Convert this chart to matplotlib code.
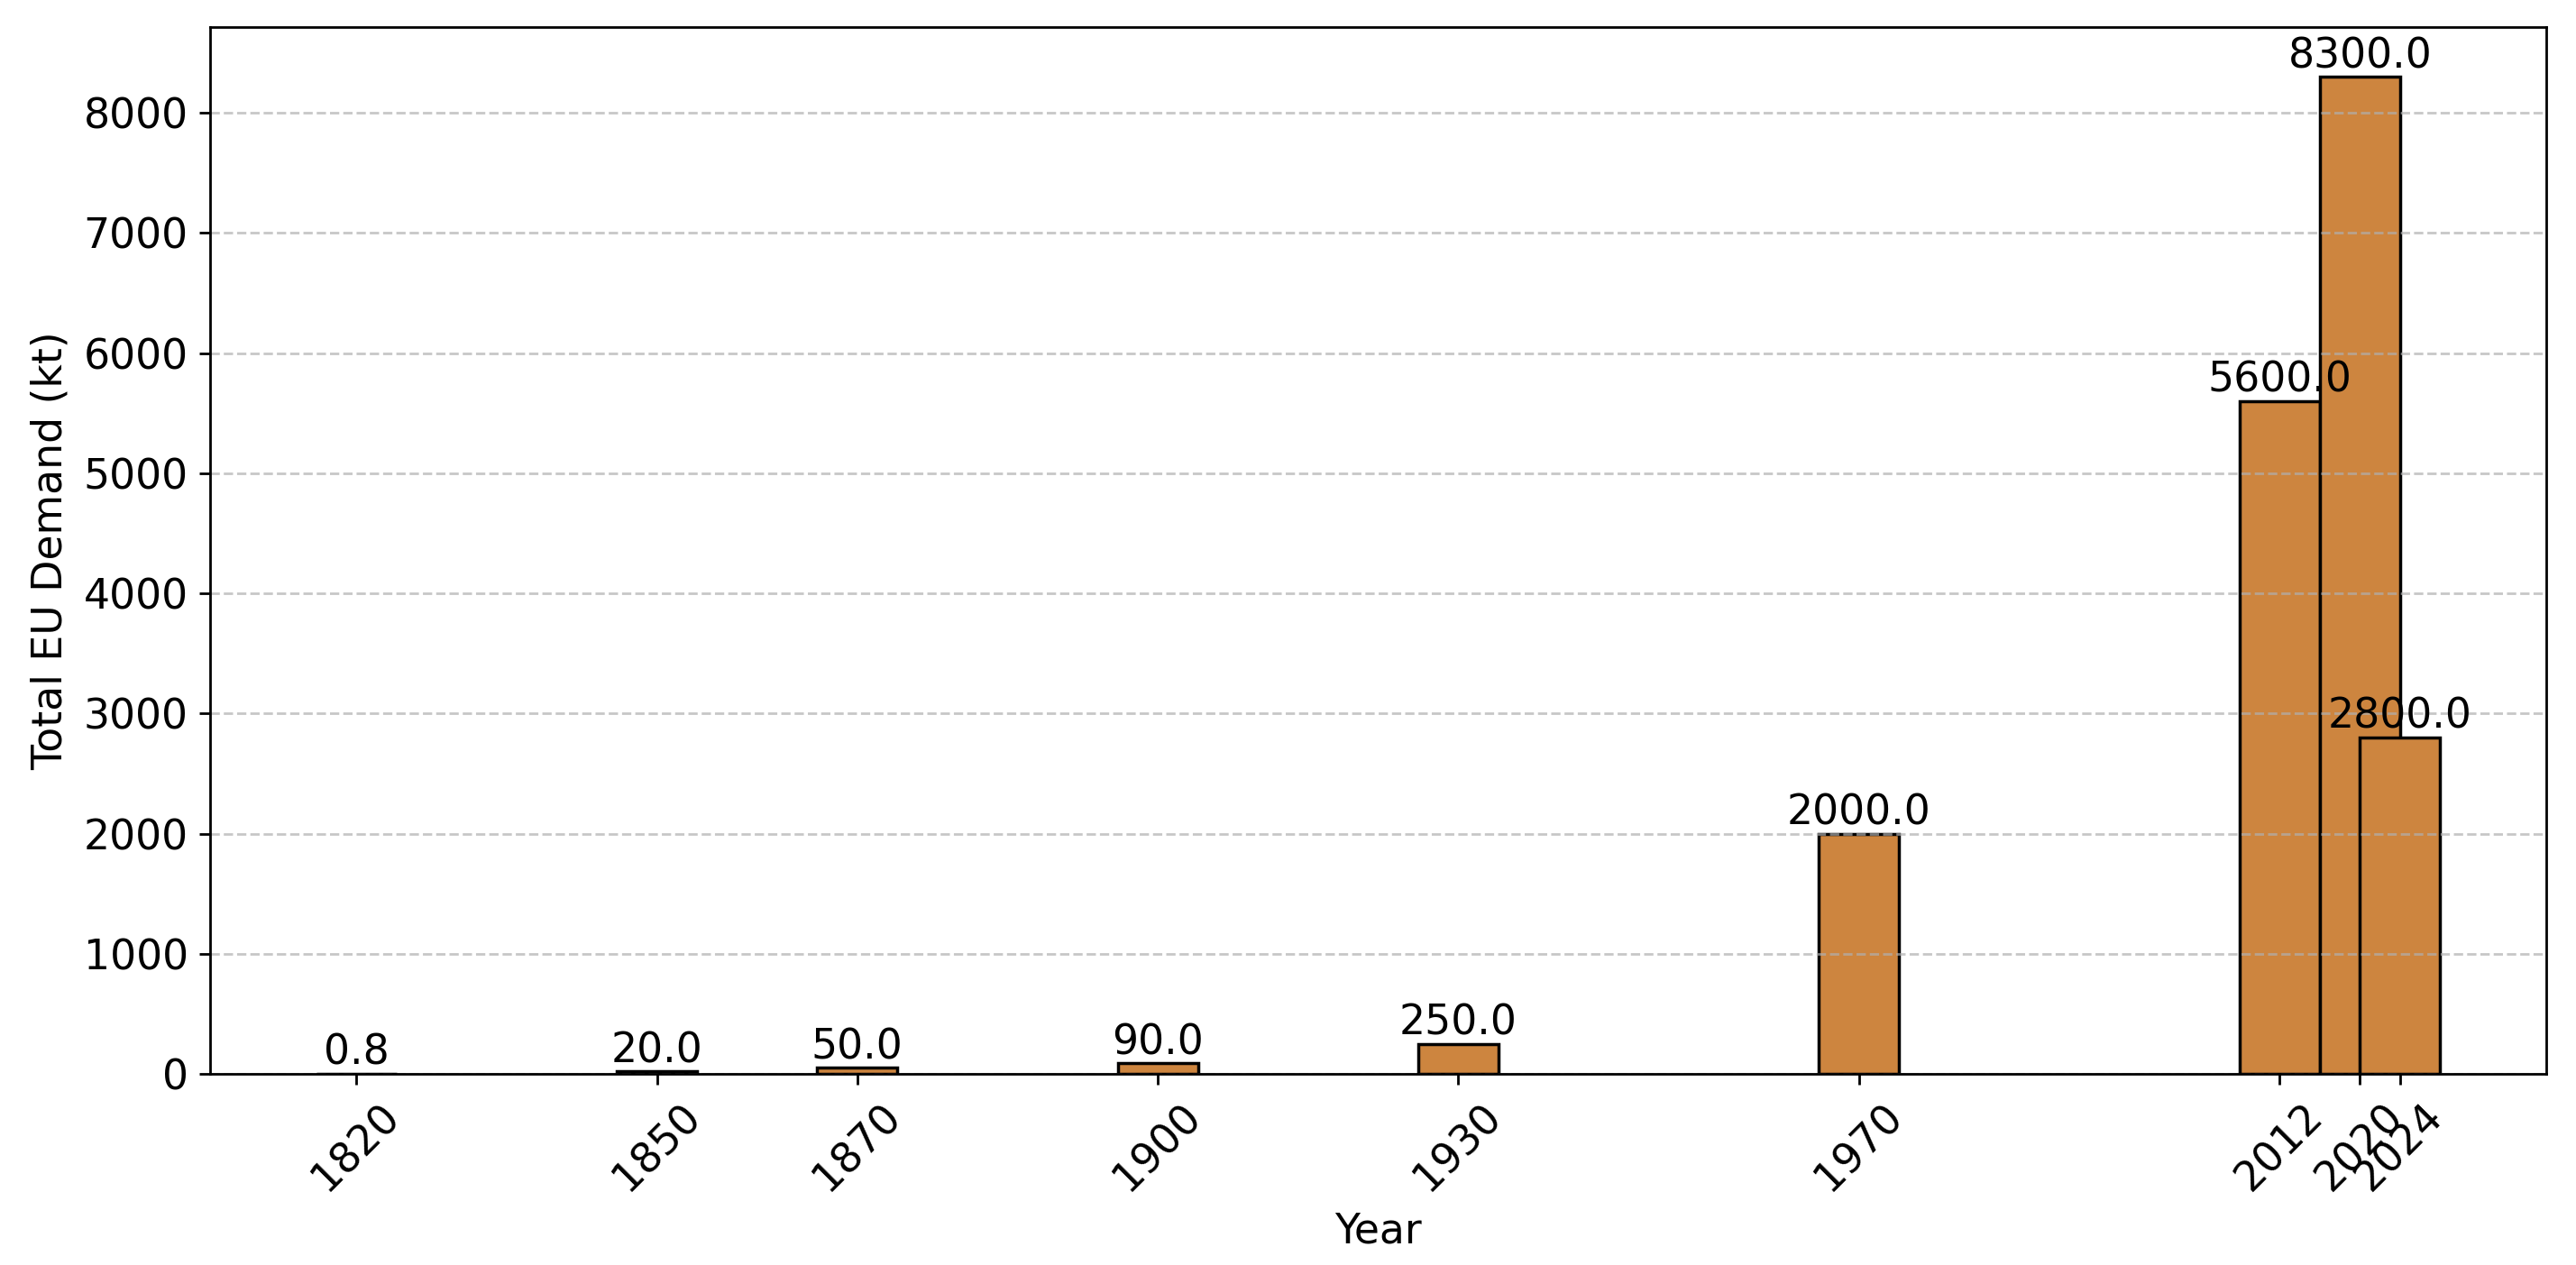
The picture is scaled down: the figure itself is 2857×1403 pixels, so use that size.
import matplotlib
matplotlib.use("Agg")
import matplotlib.pyplot as plt

years = [1820, 1850, 1870, 1900, 1930, 1970, 2012, 2020, 2024]
demand = [0.8, 20.0, 50.0, 90.0, 250.0, 2000.0, 5600.0, 8300.0, 2800.0]
tick_labels = [str(y) for y in years]

DPI = 250
plt.rcParams['font.size'] = 13.2
fig = plt.figure(figsize=(2857 / DPI, 1403 / DPI), dpi=DPI)
ax = fig.add_axes([233 / 2857, 1 - 1191 / 1403, (2824 - 233) / 2857, (1191 - 30) / 1403])

bars = ax.bar(years, demand, width=8, color='#CD853F', edgecolor='black', linewidth=1.0)
for x, h in zip(years, demand):
    ax.text(x, h, f'{h:.1f}', ha='center', va='bottom')

ax.set_xticks(years)
ax.set_xticklabels(tick_labels, rotation=45)
ax.set_xlabel('Year')
ax.set_ylabel('Total EU Demand (kt)')
ax.grid(axis='y', linestyle='--', alpha=0.7)

fig.savefig('out.png', dpi=DPI)
